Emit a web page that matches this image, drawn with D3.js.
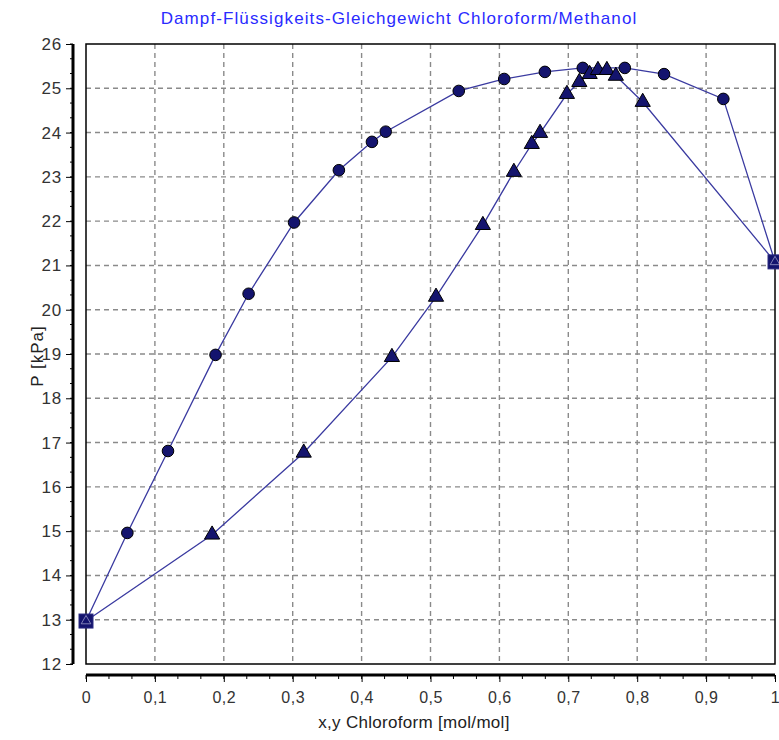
<!DOCTYPE html>
<html><head><meta charset="utf-8">
<script src="https://cdn.jsdelivr.net/npm/d3@7"></script>
<style>
html,body{margin:0;padding:0;background:#fff;}
text{font-family:"Liberation Sans",Arial,sans-serif;}
</style></head>
<body>
<svg id="chart" width="779" height="740"></svg>
<script>
const titleText = "Dampf-Flüssigkeits-Gleichgewicht Chloroform/Methanol";
const xLabel = "x,y Chloroform [mol/mol]";
const yLabel = "P [kPa]";
// liquid (boiling curve) - circles
const liqX = [0.060, 0.119, 0.188, 0.236, 0.302, 0.367, 0.415, 0.435, 0.541, 0.607, 0.666, 0.721, 0.782, 0.839, 0.925];
const liqP = [14.96, 16.81, 18.98, 20.36, 21.97, 23.15, 23.79, 24.02, 24.94, 25.21, 25.37, 25.46, 25.46, 25.32, 24.76];
// vapour (dew curve) - triangles
const vapX = [0.183, 0.316, 0.444, 0.508, 0.576, 0.621, 0.647, 0.659, 0.698, 0.716, 0.731, 0.743, 0.756, 0.769, 0.808];
const vapP = [14.92, 16.77, 18.93, 20.29, 21.91, 23.11, 23.74, 23.99, 24.87, 25.14, 25.32, 25.41, 25.41, 25.28, 24.69];
// pure components - squares
const pureX = [0, 1];
const pureP = [12.97, 21.08];
const xTicks = [0,0.1,0.2,0.3,0.4,0.5,0.6,0.7,0.8,0.9,1];
const yTicks = [12,13,14,15,16,17,18,19,20,21,22,23,24,25,26];

const svg = d3.select("#chart");
const L = 86, R = 775, T = 44, B = 664;
const x = d3.scaleLinear().domain([0,1]).range([L,R]);
const y = d3.scaleLinear().domain([12,26]).range([B,T]);
const fmt = d => d3.format("")(d).replace(".", ",");

// title
svg.append("text").attr("x", 399).attr("y", 24).attr("text-anchor","middle")
  .attr("font-size", 17).attr("letter-spacing", 1.1).attr("fill", "#2a2aff").text(titleText);

// grid
const grid = svg.append("g").attr("stroke", "#8a8a8a").attr("stroke-width", 1.4).attr("stroke-dasharray", "5,4");
grid.selectAll("line.v").data(xTicks.filter(d => d > 0 && d < 1)).join("line")
  .attr("x1", d => x(d)).attr("x2", d => x(d)).attr("y1", T).attr("y2", B);
grid.selectAll("line.h").data(yTicks.filter(d => d > 12 && d < 26)).join("line")
  .attr("x1", L).attr("x2", R).attr("y1", d => y(d)).attr("y2", d => y(d));

// frame
svg.append("rect").attr("x", L).attr("y", T).attr("width", R - L).attr("height", B - T)
  .attr("fill", "none").attr("stroke", "#000").attr("stroke-width", 1.5);

// y axis (offset)
const yMinor = d3.range(12, 26.0001, 1/3);
const yAx = svg.append("g").attr("transform", "translate(73,0)")
  .call(d3.axisLeft(y).tickValues(yTicks).tickSize(7).tickPadding(4).tickFormat(fmt));
yAx.select(".domain").attr("stroke-width", 3).attr("d", `M0,${T}V${B}`);
yAx.selectAll("text").attr("font-size", 17).attr("letter-spacing", 0.8).attr("fill", "#333");
yAx.selectAll("line.minor").data(yMinor).join("line").attr("class","minor")
  .attr("x1", -3).attr("x2", 0).attr("y1", d => y(d)).attr("y2", d => y(d)).attr("stroke", "#000");

// x axis (offset)
const xMinor = d3.range(0, 1.0001, 1/30);
const xAx = svg.append("g").attr("transform", "translate(0,675)")
  .call(d3.axisBottom(x).tickValues(xTicks).tickSize(7).tickPadding(10).tickFormat(fmt));
xAx.select(".domain").attr("stroke-width", 3).attr("d", `M${L},0H${R}`);
xAx.selectAll("text").attr("font-size", 16).attr("letter-spacing", 0.5).attr("fill", "#333");
xAx.selectAll("line.minor").data(xMinor).join("line").attr("class","minor")
  .attr("y1", 0).attr("y2", 4).attr("x1", d => x(d)).attr("x2", d => x(d)).attr("stroke", "#000");

// axis labels
svg.append("text").attr("transform", "translate(43,356) rotate(-90)").attr("text-anchor","middle")
  .attr("font-size", 17).attr("letter-spacing", 1).attr("fill", "#222").text(yLabel);
svg.append("text").attr("x", 414).attr("y", 728).attr("text-anchor","middle")
  .attr("font-size", 17).attr("letter-spacing", 0.3).attr("fill", "#222").text(xLabel);

const navy = "#14146e", lineCol = "#3a3aa0";
const liq = [pureX[0], ...liqX, pureX[1]].map((d,i) => [d, [pureP[0], ...liqP, pureP[1]][i]]);
const vap = [pureX[0], ...vapX, pureX[1]].map((d,i) => [d, [pureP[0], ...vapP, pureP[1]][i]]);
const line = d3.line().x(d => x(d[0])).y(d => y(d[1]));
svg.append("path").attr("d", line(liq)).attr("fill","none").attr("stroke", lineCol).attr("stroke-width", 1.3);
svg.append("path").attr("d", line(vap)).attr("fill","none").attr("stroke", lineCol).attr("stroke-width", 1.3);

// markers
svg.selectAll("circle.liq").data(liqX).join("circle")
  .attr("cx", d => x(d)).attr("cy", (d,i) => y(liqP[i])).attr("r", 5.8)
  .attr("fill", navy).attr("stroke", "#000").attr("stroke-width", 1);
const tri = d3.symbol().type(d3.symbolTriangle).size(100);
svg.selectAll("path.vap").data(vapX).join("path")
  .attr("d", tri).attr("transform", (d,i) => `translate(${x(d)},${y(vapP[i])})`)
  .attr("fill", navy).attr("stroke", "#000").attr("stroke-width", 1);
svg.selectAll("rect.pure").data(pureX).join("rect")
  .attr("x", d => x(d) - 7).attr("y", (d,i) => y(pureP[i]) - 7).attr("width", 14).attr("height", 14)
  .attr("fill", navy).attr("stroke", "#2a2a80").attr("stroke-width", 1);
svg.selectAll("path.puret").data(pureX).join("path")
  .attr("d", d3.symbol().type(d3.symbolTriangle).size(40))
  .attr("transform", (d,i) => `translate(${x(d)},${y(pureP[i])})`)
  .attr("fill", "none").attr("stroke", "#9a9ac8").attr("stroke-width", 0.8);
</script>
</body></html>
